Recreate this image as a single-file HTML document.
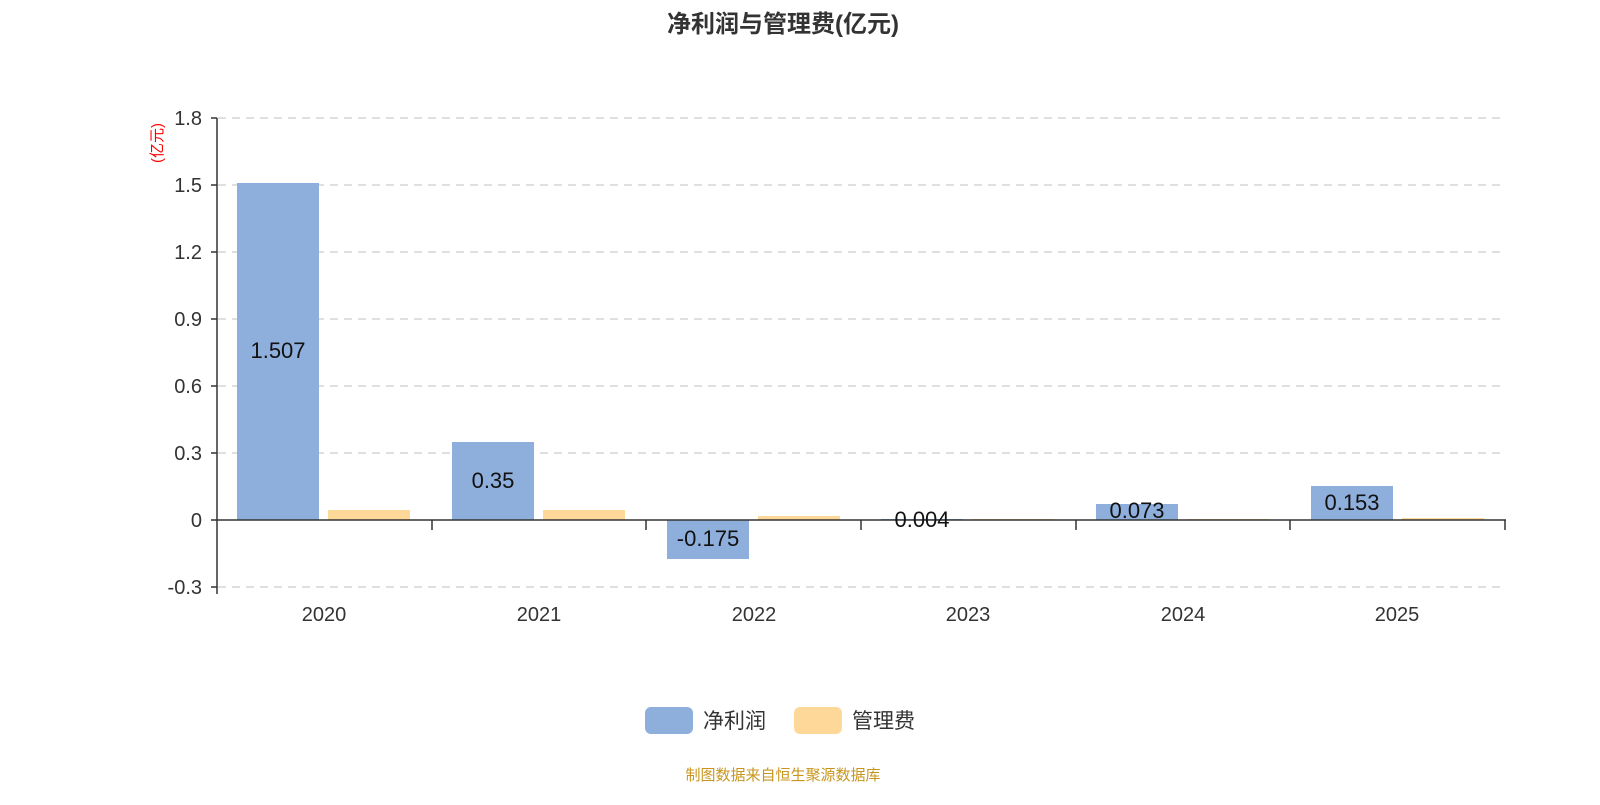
<!DOCTYPE html>
<html><head><meta charset="utf-8"><style>
body{margin:0;background:#fff;width:1600px;height:800px;overflow:hidden}
svg text{font-family:"Liberation Sans","Noto Sans CJK SC",sans-serif}
</style></head><body>
<svg width="1600" height="800" xmlns="http://www.w3.org/2000/svg">
<text x="783" y="32" text-anchor="middle" font-size="24" font-weight="bold" fill="#333">净利润与管理费(亿元)</text>
<g stroke="#ccc" stroke-width="1.2" stroke-dasharray="8,6">
<line x1="218" y1="118" x2="1505" y2="118"/><line x1="218" y1="185" x2="1505" y2="185"/>
<line x1="218" y1="252" x2="1505" y2="252"/><line x1="218" y1="319" x2="1505" y2="319"/>
<line x1="218" y1="386" x2="1505" y2="386"/><line x1="218" y1="453" x2="1505" y2="453"/>
<line x1="218" y1="587" x2="1505" y2="587"/>
</g>
<g font-size="20" fill="#333" text-anchor="end">
<text x="202" y="125">1.8</text><text x="202" y="192">1.5</text><text x="202" y="259">1.2</text>
<text x="202" y="326">0.9</text><text x="202" y="393">0.6</text><text x="202" y="460">0.3</text>
<text x="202" y="527">0</text><text x="202" y="594">-0.3</text>
</g>
<text transform="translate(162,143) rotate(-90)" text-anchor="middle" font-size="15" fill="#f00">(亿元)</text>
<g fill="#8eaedb">
<rect x="237" y="183" width="82" height="337"/>
<rect x="452" y="442" width="82" height="78"/>
<rect x="667" y="520" width="82" height="39"/>
<rect x="881" y="519" width="82" height="1"/>
<rect x="1096" y="504" width="82" height="16"/>
<rect x="1311" y="486" width="82" height="34"/>
</g>
<g fill="#fdd898">
<rect x="328" y="510" width="82" height="10"/>
<rect x="543" y="510" width="82" height="10"/>
<rect x="758" y="516" width="82" height="4"/>
<rect x="972" y="519" width="82" height="1"/>
<rect x="1187" y="519" width="82" height="1"/>
<rect x="1402" y="518" width="82" height="2"/>
</g>
<g stroke="#333" stroke-width="1.5">
<line x1="217" y1="118" x2="217" y2="594"/>
<line x1="217" y1="520" x2="1506" y2="520"/>
<line x1="211" y1="118" x2="217" y2="118"/><line x1="211" y1="185" x2="217" y2="185"/>
<line x1="211" y1="252" x2="217" y2="252"/><line x1="211" y1="319" x2="217" y2="319"/>
<line x1="211" y1="386" x2="217" y2="386"/><line x1="211" y1="453" x2="217" y2="453"/>
<line x1="211" y1="520" x2="217" y2="520"/><line x1="211" y1="587" x2="217" y2="587"/>
<line x1="432" y1="520" x2="432" y2="530"/><line x1="646" y1="520" x2="646" y2="530"/>
<line x1="861" y1="520" x2="861" y2="530"/><line x1="1076" y1="520" x2="1076" y2="530"/>
<line x1="1290" y1="520" x2="1290" y2="530"/><line x1="1505" y1="520" x2="1505" y2="530"/>
</g>
<g font-size="22" fill="#111" text-anchor="middle">
<text x="278" y="358">1.507</text><text x="493" y="488">0.35</text>
<text x="708" y="546">-0.175</text><text x="922" y="527">0.004</text>
<text x="1137" y="518">0.073</text><text x="1352" y="510">0.153</text>
</g>
<g font-size="20" fill="#333" text-anchor="middle">
<text x="324" y="621">2020</text><text x="539" y="621">2021</text><text x="754" y="621">2022</text>
<text x="968" y="621">2023</text><text x="1183" y="621">2024</text><text x="1397" y="621">2025</text>
</g>
<rect x="645" y="707" width="48" height="27" rx="6" fill="#8eaedb"/>
<text x="703" y="728" font-size="21" fill="#333">净利润</text>
<rect x="794" y="707" width="48" height="27" rx="6" fill="#fdd898"/>
<text x="852" y="728" font-size="21" fill="#333">管理费</text>
<text x="783" y="780" text-anchor="middle" font-size="15" fill="#c8961e">制图数据来自恒生聚源数据库</text>
</svg>
</body></html>
